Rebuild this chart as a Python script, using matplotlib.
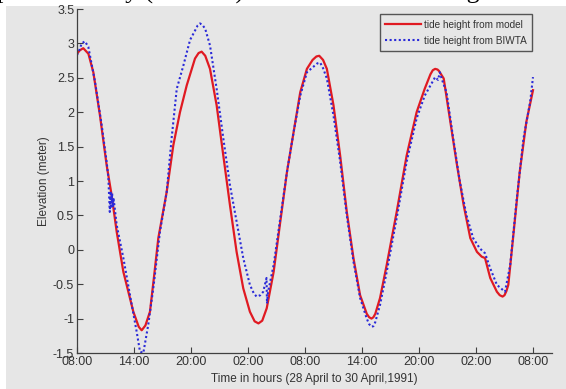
import numpy as np
import matplotlib
matplotlib.use("Agg")
import matplotlib.pyplot as plt
from matplotlib.patches import Rectangle

plt.rcParams["font.family"] = ["Liberation Sans", "DejaVu Sans"]

# Model tide height (hours from 28 April 08:00, metres)
model_hours = [0.0, 0.3, 0.66, 1.2, 1.72, 2.42, 3.12, 3.65, 4.18, 4.88, 5.93, 6.5, 6.81, 7.2, 7.68,
               8.1, 8.56, 9.44, 10.14, 10.84, 11.55, 12.42, 12.8, 13.12, 13.5, 14.0, 14.7, 15.4, 16.1,
               16.8, 17.5, 18.2, 18.7, 19.1, 19.5, 19.97, 20.7, 21.4, 22.1, 22.8, 23.5, 24.2,
               24.8, 25.2, 25.5, 25.9, 26.3, 27.0, 27.7, 28.4, 29.1, 29.8, 30.5, 30.75, 31.0, 31.2,
               31.4, 31.9, 32.6, 33.65, 34.7, 35.75, 36.6, 37.2, 37.45, 37.7, 37.95, 38.1, 38.6,
               39.3, 40.0, 40.7, 41.4, 42.1, 42.6, 42.95, 43.5, 44.2, 44.5, 44.8, 45.0, 45.2, 45.4,
               45.9, 46.6, 47.3, 48.0]
model_level = [2.85, 2.90, 2.93, 2.85, 2.58, 1.95, 1.23, 0.79, 0.26, -0.32, -0.90, -1.12, -1.17, -1.10, -0.90,
               -0.40, 0.17, 0.84, 1.52, 2.0, 2.39, 2.78, 2.86, 2.88, 2.82, 2.63, 2.10, 1.37, 0.65,
               -0.03, -0.56, -0.90, -1.04, -1.07, -1.03, -0.85, -0.32, 0.41, 1.13, 1.71, 2.29, 2.63,
               2.76, 2.81, 2.82, 2.76, 2.63, 2.10, 1.37, 0.55, -0.12, -0.66, -0.93, -0.98, -1.00, -0.98,
               -0.93, -0.70, -0.22, 0.55, 1.37, 2.0, 2.34, 2.55, 2.61, 2.63, 2.62, 2.60, 2.49,
               1.86, 1.23, 0.65, 0.17, -0.03, -0.10, -0.12, -0.41, -0.61, -0.66, -0.68, -0.66, -0.60, -0.51,
               0.17, 1.13, 1.86, 2.32]

# Observed tide height from BIWTA
obs_hours = [0.0, 0.3, 0.49, 0.84, 1.19, 1.9, 2.6, 3.12, 3.3, 3.45, 3.55, 3.62, 3.7, 3.78, 3.85,
             4.18, 4.88, 5.58, 6.28, 6.63, 6.98, 7.5, 8.03, 8.73, 9.44, 9.96, 10.5, 11.2, 11.9,
             12.4, 12.7, 12.95, 13.2, 13.5, 14.0, 14.7, 15.4, 16.1, 16.8, 17.5, 18.2, 18.6, 18.9,
             19.3, 19.6, 19.95, 20.0, 20.1, 20.7, 21.4, 22.1, 22.8, 23.5, 24.2, 25.05, 25.3, 25.6,
             25.9, 26.3, 27.0, 27.7, 28.4, 29.1, 29.8, 30.5, 30.75, 31.0, 31.2, 31.4, 31.9, 32.6,
             33.65, 34.7, 35.75, 36.6, 37.7, 38.0, 38.2, 38.4, 38.9, 39.6, 40.3, 41.0, 41.7, 42.4,
             42.95, 43.5, 44.2, 45.05, 45.6, 46.3, 47.0, 47.7, 48.0]
obs_level = [2.83, 2.92, 3.00, 3.03, 2.95, 2.44, 1.81, 1.28, 1.05, 0.55, 0.85, 0.60, 0.82, 0.62, 0.75,
             0.36, -0.12, -0.66, -1.19, -1.48, -1.50, -1.09, -0.56, 0.26, 0.84, 1.62, 2.34, 2.68, 3.05,
             3.18, 3.26, 3.29, 3.27, 3.21, 2.97, 2.34, 1.62, 0.94, 0.41, -0.12, -0.51, -0.63, -0.68,
             -0.66, -0.61, -0.41, -0.78, -0.62, -0.22, 0.46, 1.13, 1.71, 2.24, 2.58, 2.68, 2.71, 2.72,
             2.64, 2.49, 1.95, 1.28, 0.50, -0.17, -0.70, -1.0, -1.08, -1.12, -1.11, -1.05, -0.80, -0.32,
             0.46, 1.28, 1.91, 2.24, 2.51, 2.47, 2.58, 2.48, 2.29, 1.62, 0.99, 0.50, 0.17, 0.02,
             -0.05, -0.27, -0.51, -0.61, -0.22, 0.75, 1.62, 2.15, 2.51]

x_ticks = [0, 6, 12, 18, 24, 30, 36, 42, 48]
x_labels = ["08:00", "14:00", "20:00", "02:00", "08:00", "14:00", "20:00", "02:00", "08:00"]
y_ticks = [-1.5, -1, -0.5, 0, 0.5, 1, 1.5, 2, 2.5, 3, 3.5]
y_labels = ["-1.5", "-1", "-0.5", "0", "0.5", "1", "1.5", "2", "2.5", "3", "3.5"]

bg = "#e6e6e6"
W, H = 566, 389
fig = plt.figure(figsize=(W / 100, H / 100), dpi=100, facecolor="white")
# gray figure panel below the cut caption line
fig.patches.append(Rectangle((6 / W, 0), 1, 1 - 6 / H, transform=fig.transFigure,
                             facecolor=bg, edgecolor="none", zorder=-5))
fig.text(-0.005, 1 + 1 / H, "port authority (BIWTA) tide data shown in Fig. 5.",
         family=["Liberation Serif", "DejaVu Serif"], fontsize=18.5, va="baseline", ha="left",
         zorder=5)

ax = fig.add_axes([77 / W, 1 - 353 / H, (552 - 77) / W, (353 - 9) / H])
ax.set_facecolor("none")

ax.plot(model_hours, model_level, color="#e01a22", lw=1.6, label="tide height from model")
ax.plot(obs_hours, obs_level, color="#2a2ad8", lw=1.5, ls=(0, (1, 1.2)),
        label="tide height from BIWTA")

ax.set_xlim(0, 50)
ax.set_ylim(-1.5, 3.5)
ax.set_xticks(x_ticks)
ax.set_xticklabels(x_labels)
ax.set_yticks(y_ticks)
ax.set_yticklabels(y_labels)
ax.tick_params(direction="in", length=4, width=0.8, colors="#404040", labelsize=9, pad=2)
ax.tick_params(axis="x", labelcolor="#333333")
ax.tick_params(axis="y", labelcolor="#333333")
for side in ["top", "right"]:
    ax.spines[side].set_visible(False)
for side in ["left", "bottom"]:
    ax.spines[side].set_color("#404040")
    ax.spines[side].set_linewidth(0.9)

ax.set_xlabel("Time in hours (28 April to 30 April,1991)", fontsize=8.5, color="#333333", labelpad=4)
ax.set_ylabel("Elevation (meter)", fontsize=8.5, color="#333333", labelpad=2)

leg = ax.legend(loc="upper right", bbox_to_anchor=((532 - 77) / 475, 1 - 5 / 344),
                borderaxespad=0, fontsize=7.2, frameon=True, fancybox=False,
                handlelength=3.6, borderpad=0.55, labelspacing=0.6, handletextpad=0.25)
leg.get_frame().set_facecolor(bg)
leg.get_frame().set_edgecolor("#555555")
leg.get_frame().set_linewidth(1.0)
leg.get_frame().set_alpha(1)
for t in leg.get_texts():
    t.set_color("#333333")

fig.savefig("out.png", dpi=100, facecolor="white")
